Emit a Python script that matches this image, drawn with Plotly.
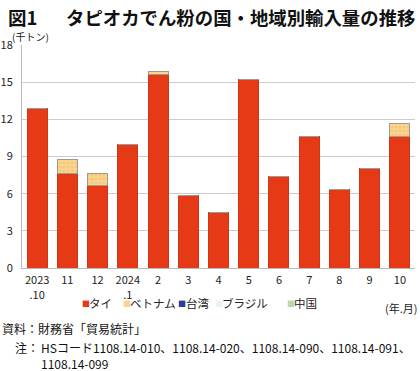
import plotly.graph_objects as go

# ---- data (thousand tonnes) ----
months = ["2023<br>.10", "11", "12", "2024<br>.1", "2", "3", "4", "5", "6", "7", "8", "9", "10"]
thai = [12.9, 7.65, 6.65, 10.0, 15.6, 5.87, 4.47, 15.23, 7.35, 10.6, 6.35, 8.07, 10.6]
vietnam = [0.0, 1.07, 0.98, 0.0, 0.27, 0.0, 0.0, 0.0, 0.0, 0.0, 0.0, 0.0, 1.05]
taiwan = [0.0] * 13
brazil = [0.0] * 13
china = [0.0] * 13
y_ticks = [0, 3, 6, 9, 12, 15, 18]

series_names = ["タイ", "ベトナム", "台湾", "ブラジル", "中国"]
series_values = [thai, vietnam, taiwan, brazil, china]
fill_colors = ["#E63A17", "#FCD48C", "#2E3F8F", "#EAF4F8", "#B9D8A8"]
line_colors = ["#D0361A", "#9A9A9A", "#5A6AA8", "#8AAAB8", "#8AAA80"]
pattern_fg = [None, "#F0B868", "#9AA8E0", None, "#E8F2E0"]

FONT = "Noto Sans CJK JP"
W, H = 420, 371
ML, MR, MT, MB = 22, 5, 45, 103
x_idx = list(range(len(months)))

fig = go.Figure()
for name, vals, fc, lc, pf in zip(series_names, series_values, fill_colors, line_colors, pattern_fg):
    pattern = dict(shape=".", fgcolor=pf, size=4, solidity=0.35) if pf else None
    lw = 1 if any(v > 0 for v in vals) else 0
    fig.add_trace(go.Bar(
        x=x_idx, y=vals, name=name, width=0.66,
        marker=dict(color=fc, line=dict(color=lc, width=lw), pattern=pattern),
        showlegend=False, hoverinfo="skip",
    ))

fig.update_layout(
    barmode="stack",
    width=W, height=H,
    margin=dict(l=ML, r=MR, t=MT, b=MB, autoexpand=False),
    paper_bgcolor="white", plot_bgcolor="white",
    font=dict(family=FONT, size=11, color="#222"),
    showlegend=False,
)
fig.update_xaxes(
    range=[-0.5, 12.5], tickmode="array", tickvals=x_idx, ticktext=months,
    showline=True, linecolor="#BBBBBB", linewidth=1, ticks="", showgrid=False,
    tickfont=dict(family=FONT, size=11, color="#222"), ticklabelstandoff=2, automargin=False,
)
fig.update_yaxes(
    range=[0, 18], tickmode="array", tickvals=y_ticks,
    showline=True, linecolor="#BBBBBB", linewidth=1, ticks="",
    showgrid=True, gridcolor="#CCCCCC", gridwidth=1, zeroline=False,
    tickfont=dict(family=FONT, size=11, color="#222"), ticklabelstandoff=6, automargin=False,
)

# text placed in pixel coordinates (x = left edge, y = vertical centre)
texts = [
    dict(text="<b>図1</b>", x=6, y=17, font=dict(family=FONT, size=18.5, color="#111")),
    dict(text="<b>タピオカでん粉の国・地域別輸入量の推移</b>", x=64, y=17, font=dict(family=FONT, size=18.4, color="#111")),
    dict(text="(千トン)", x=10, y=37, font=dict(family=FONT, size=10, color="#222")),
    dict(text="(年.月)", x=383, y=308, font=dict(family=FONT, size=11, color="#222")),
    dict(text="資料：財務省「貿易統計」", x=0, y=328, font=dict(family=FONT, size=12, color="#111")),
    dict(text="注：", x=13, y=347, font=dict(family=FONT, size=12, color="#111")),
    dict(text="HSコード1108.14-010、1108.14-020、1108.14-090、1108.14-091、", x=39, y=347,
         font=dict(family=FONT, size=12, color="#111")),
    dict(text="1108.14-099", x=39, y=363, font=dict(family=FONT, size=12, color="#111")),
]
# legend built from series names and colours (marker x, text x)
leg_marker_x = [80, 121, 176, 213, 285]
leg_text_x = [87, 128, 184, 220, 292]
for name, fc, lc, mx, tx in zip(series_names, fill_colors, line_colors, leg_marker_x, leg_text_x):
    texts.append(dict(text=f"<span style='color:{fc}'>■</span>", x=mx, y=303,
                      font=dict(family=FONT, size=8, color=fc)))
    texts.append(dict(text=name, x=tx, y=303, font=dict(family=FONT, size=11.5, color="#222")))

pw, ph = W - ML - MR, H - MT - MB
fig.update_layout(annotations=[
    dict(text=a["text"], font=a["font"], xref="paper", yref="paper", showarrow=False,
         xanchor="left", yanchor="middle", x=(a["x"] - ML) / pw, y=1 - (a["y"] - MT) / ph)
    for a in texts
])

fig.write_html("out.html", config={"displayModeBar": False},
               post_script="document.body.style.margin='0';")
